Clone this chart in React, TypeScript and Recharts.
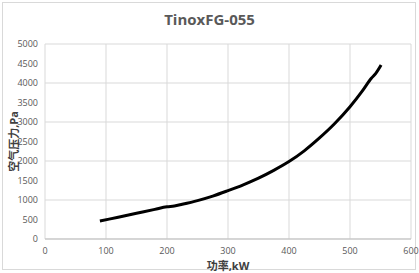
import { LineChart, Line, XAxis, YAxis, CartesianGrid, Label } from "recharts";

const powerKw = [90, 120, 150, 180, 200, 212, 225, 250, 275, 300, 325, 350, 375, 400, 425, 450, 475, 500, 520, 535, 542, 551];
const pressurePa = [460, 560, 660, 760, 825, 845, 890, 985, 1100, 1240, 1390, 1560, 1760, 1985, 2260, 2590, 2960, 3390, 3790, 4120, 4240, 4460];
const xTicks = [0, 100, 200, 300, 400, 500, 600];
const yTicks = [0, 500, 1000, 1500, 2000, 2500, 3000, 3500, 4000, 4500, 5000];

const data = powerKw.map((x, i) => ({ x, y: pressurePa[i] }));

const font = "'Open Sans', 'Noto Sans CJK SC', sans-serif";

export default function App() {
  return (
    <div
      style={{
        position: "fixed",
        left: 0,
        top: 0,
        width: 419,
        height: 273,
        background: "#fff",
        fontFamily: font,
      }}
    >
      <div
        style={{
          position: "absolute",
          left: 2,
          top: 2,
          width: 414,
          height: 268,
          border: "1px solid #d9d9d9",
          boxSizing: "border-box",
        }}
      />
      <div
        style={{
          position: "absolute",
          left: 0,
          top: 9,
          width: 419,
          textAlign: "center",
          fontSize: 15,
          fontWeight: "bold",
          color: "#595959",
        }}
      >
        TinoxFG-055
      </div>
      <div style={{ position: "absolute", left: 0, top: 0 }}>
        <LineChart width={419} height={273} data={data} margin={{ top: 44, right: 8, bottom: 0, left: 0 }}>
          <CartesianGrid stroke="#d9d9d9" strokeWidth={1} />
          <XAxis
            dataKey="x"
            type="number"
            domain={[0, 600]}
            ticks={xTicks}
            height={34}
            axisLine={{ stroke: "#bfbfbf" }}
            tickLine={false}
            tick={{ fontSize: 9, fill: "#595959", fontFamily: font }}
            tickMargin={3}
          >
            <Label
              value="功率,kW"
              position="insideBottom"
              offset={3}
              style={{ fontSize: 11, fontWeight: "bold", fill: "#404040", fontFamily: font }}
            />
          </XAxis>
          <YAxis
            type="number"
            domain={[0, 5000]}
            ticks={yTicks}
            width={45}
            axisLine={false}
            tickLine={false}
            tick={{ fontSize: 9, fill: "#595959", fontFamily: font }}
            tickMargin={1}
          >
            <Label
              value="空气压力,Pa"
              angle={-90}
              position="insideLeft"
              offset={14}
              style={{ fontSize: 11, fontWeight: "bold", fill: "#404040", fontFamily: font, textAnchor: "middle" }}
            />
          </YAxis>
          <Line
            dataKey="y"
            type="monotone"
            stroke="#000"
            strokeWidth={3}
            dot={false}
            isAnimationActive={false}
          />
        </LineChart>
      </div>
    </div>
  );
}
